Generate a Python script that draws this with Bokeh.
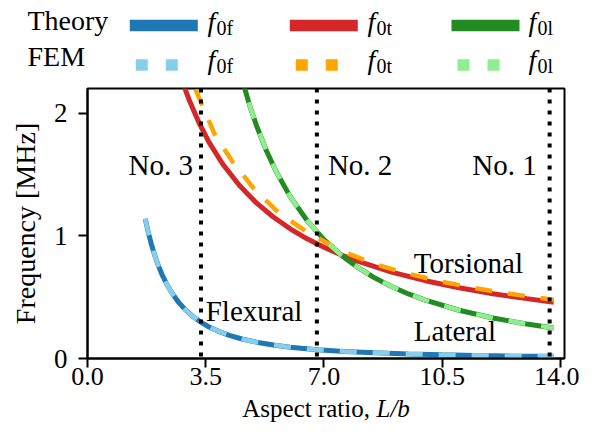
from bokeh.plotting import figure
from bokeh.models import Range1d, Span, Label, FixedTicker, NumeralTickFormatter
from bokeh.layouts import column
from bokeh.embed import file_html
from bokeh.resources import INLINE

# ---------------- data ----------------
r_flex = [1.71, 1.8, 1.9, 2.0, 2.1, 2.2, 2.35, 2.5, 2.7, 2.9, 3.1, 3.36, 3.6, 3.9,
          4.2, 4.6, 5.0, 5.5, 6.0, 6.8, 7.6, 8.5, 9.5, 10.5, 11.5, 12.5, 13.8]
f_flex_theory = [1.139, 1.028, 0.922, 0.833, 0.755, 0.688, 0.603, 0.533, 0.457, 0.396,
                 0.347, 0.295, 0.257, 0.219, 0.189, 0.157, 0.133, 0.110, 0.0925, 0.072,
                 0.0577, 0.0461, 0.0369, 0.0302, 0.0252, 0.0213, 0.0175]
f_flex_fem = [1.139, 1.028, 0.922, 0.833, 0.755, 0.688, 0.603, 0.533, 0.457, 0.396,
              0.347, 0.295, 0.257, 0.219, 0.189, 0.157, 0.133, 0.110, 0.0925, 0.072,
              0.0577, 0.0461, 0.0369, 0.0302, 0.0252, 0.0213, 0.0175]

r_tors = [2.8, 3.0, 3.3, 3.6, 4.0, 4.5, 5.0, 5.5, 6.0, 6.5, 7.0, 7.5, 8.0, 9.0,
          10.0, 11.0, 12.0, 13.0, 13.8]
f_tors_theory = [2.264, 2.113, 1.921, 1.761, 1.585, 1.409, 1.268, 1.153, 1.057, 0.975,
                 0.906, 0.845, 0.793, 0.704, 0.634, 0.576, 0.528, 0.488, 0.459]
r_tors_fem = [3.2, 3.4, 3.77, 4.3, 4.95, 5.65, 6.45, 7.5, 8.5, 9.5, 10.5, 11.5, 12.5, 13.8]
f_tors_fem = [2.19, 2.06, 1.825, 1.60, 1.375, 1.19, 1.04, 0.879, 0.77, 0.69, 0.625,
              0.572, 0.527, 0.478]

r_lat = [4.5, 4.8, 5.0, 5.3, 5.6, 6.0, 6.5, 7.0, 7.5, 8.0, 8.5, 9.0, 9.5, 10.0,
         11.0, 12.0, 13.0, 13.8]
f_lat_theory = [2.346, 2.062, 1.90, 1.691, 1.515, 1.319, 1.124, 0.969, 0.844, 0.742,
                0.657, 0.586, 0.526, 0.475, 0.393, 0.330, 0.281, 0.249]
f_lat_fem = [2.346, 2.062, 1.90, 1.691, 1.515, 1.319, 1.124, 0.969, 0.844, 0.742,
             0.657, 0.586, 0.526, 0.475, 0.393, 0.330, 0.281, 0.249]

device_ratios = [13.68, 6.79, 3.36]
device_names = ["No. 1", "No. 2", "No. 3"]
x_ticks = [0.0, 3.5, 7.0, 10.5, 14.0]
y_ticks = [0, 1, 2]

mode_names = ["Flexural", "Torsional", "Lateral"]
mode_label_pos = [(3.5, 0.296), (9.66, 0.69), (9.66, 0.133)]

theory_colors = ["#1f77b4", "#d62728", "#228b22"]
fem_colors = ["#87ceeb", "#ffa500", "#90ee90"]
subs = ["0f", "0t", "0l"]

FONT = "Liberation Serif"
W = 579
X_MIN, X_MAX = 0.0, 14.12
FRAME_L, FRAME_R = 87, 564


def strip(height, x_range, y_top, y_bottom):
    f = figure(width=W, height=height, x_range=x_range, title=None,
               y_range=Range1d(y_bottom, y_top), output_backend="svg",
               toolbar_location=None, min_border=0,
               x_axis_location=None, y_axis_location=None)
    f.outline_line_color = None
    f.grid.visible = False
    f.frame_align = False
    return f


def lab(fig, x, y, text, size=28, align="left", style="normal", x_offset=0):
    # y is the wanted baseline; y_offset compensates Label's baseline placement
    fig.add_layout(Label(x=x, y=y, x_offset=x_offset, y_offset=round(0.39 * size),
                         text=text, text_align=align,
                         text_baseline="alphabetic", text_font=FONT,
                         text_font_style=style, text_font_size=f"{size}px",
                         text_color="black"))


# ---------------- legend strip (pixel coordinates) ----------------
leg = strip(80, Range1d(0, W), 0, 80)
lab(leg, 27, 31, "Theory")
lab(leg, 27, 67, "FEM")
line_x0 = [129.3, 289.3, 451.0]
label_x = [207, 367, 528]
for i in range(3):
    x0 = line_x0[i]
    leg.line([x0, x0 + 68], [25, 25], line_color=theory_colors[i], line_width=11.5)
    leg.segment(x0=[x0 + 6, x0 + 36], y0=[64.5, 64.5], x1=[x0 + 18, x0 + 48],
                y1=[64.5, 64.5], line_color=fem_colors[i], line_width=11.5)
    for by in (32, 70):
        lab(leg, label_x[i], by, "f", style="italic")
        lab(leg, label_x[i] + 9, by + 3.5, subs[i], size=20)

# ---------------- main plot ----------------
p = figure(width=W, height=316, x_range=Range1d(X_MIN, X_MAX), y_range=Range1d(0, 2.2),
           title=None, output_backend="svg", toolbar_location=None,
           min_border_left=FRAME_L, min_border_right=W - FRAME_R,
           min_border_top=8, min_border_bottom=38)
p.frame_align = False
p.grid.visible = False
p.outline_line_color = "black"
p.outline_line_width = 2

p.xaxis.ticker = FixedTicker(ticks=x_ticks)
p.yaxis.ticker = FixedTicker(ticks=y_ticks)
p.xaxis.formatter = NumeralTickFormatter(format="0.0")
p.yaxis.formatter = NumeralTickFormatter(format="0")
for ax in (p.xaxis, p.yaxis):
    ax.minor_tick_line_color = None
    ax.major_tick_in = 0
    ax.major_tick_out = 9
    ax.major_tick_line_width = 2
    ax.axis_line_width = 2
    ax.major_label_text_font = FONT
    ax.major_label_text_color = "black"
p.xaxis.major_label_text_font_size = "26px"
p.yaxis.major_label_text_font_size = "27px"
p.xaxis.major_label_standoff = 0
p.yaxis.major_label_standoff = 11
p.yaxis.axis_label = "Frequency [MHz]"
p.yaxis.axis_label_text_font = FONT
p.yaxis.axis_label_text_font_size = "28px"
p.yaxis.axis_label_text_font_style = "normal"
p.yaxis.axis_label_text_color = "black"
p.yaxis.axis_label_standoff = 10

# theory lines
p.line(r_flex, f_flex_theory, line_color=theory_colors[0], line_width=5)
p.line(r_tors, f_tors_theory, line_color=theory_colors[1], line_width=5)
p.line(r_lat, f_lat_theory, line_color=theory_colors[2], line_width=5)
# FEM dashed lines
p.line(r_flex, f_flex_fem, line_color=fem_colors[0], line_width=4.5, line_dash="17 16")
p.line(r_tors_fem, f_tors_fem, line_color=fem_colors[1], line_width=4.5, line_dash="17 16")
p.line(r_lat, f_lat_fem, line_color=fem_colors[2], line_width=4.5, line_dash="17 16")

# device markers
name_offsets = [-13, 11, -8]
name_align = ["right", "left", "right"]
for r, name, off, al in zip(device_ratios, device_names, name_offsets, name_align):
    p.add_layout(Span(location=r, dimension="height", line_color="black",
                      line_width=4, line_dash="4 7"))
    lab(p, r, 1.49, name, size=29, align=al, x_offset=off)

for name, (lx, ly) in zip(mode_names, mode_label_pos):
    lab(p, lx, ly, name, size=29)

# ---------------- bottom strip: x-axis label (with italic L/b) ----------------
px_per_unit = (FRAME_R - FRAME_L) / (X_MAX - X_MIN)
xr = Range1d(X_MIN - FRAME_L / px_per_unit, X_MAX + (W - FRAME_R) / px_per_unit)
xl = strip(28, xr, 396, 424)
x_mid = (X_MIN + X_MAX) / 2
lab(xl, x_mid, 418, "Aspect ratio,", size=25, align="right", x_offset=44)
lab(xl, x_mid, 418, "L/b", size=25, style="italic", x_offset=50.5)

layout = column(leg, p, xl)
open("out.html", "w").write(file_html(layout, INLINE))
